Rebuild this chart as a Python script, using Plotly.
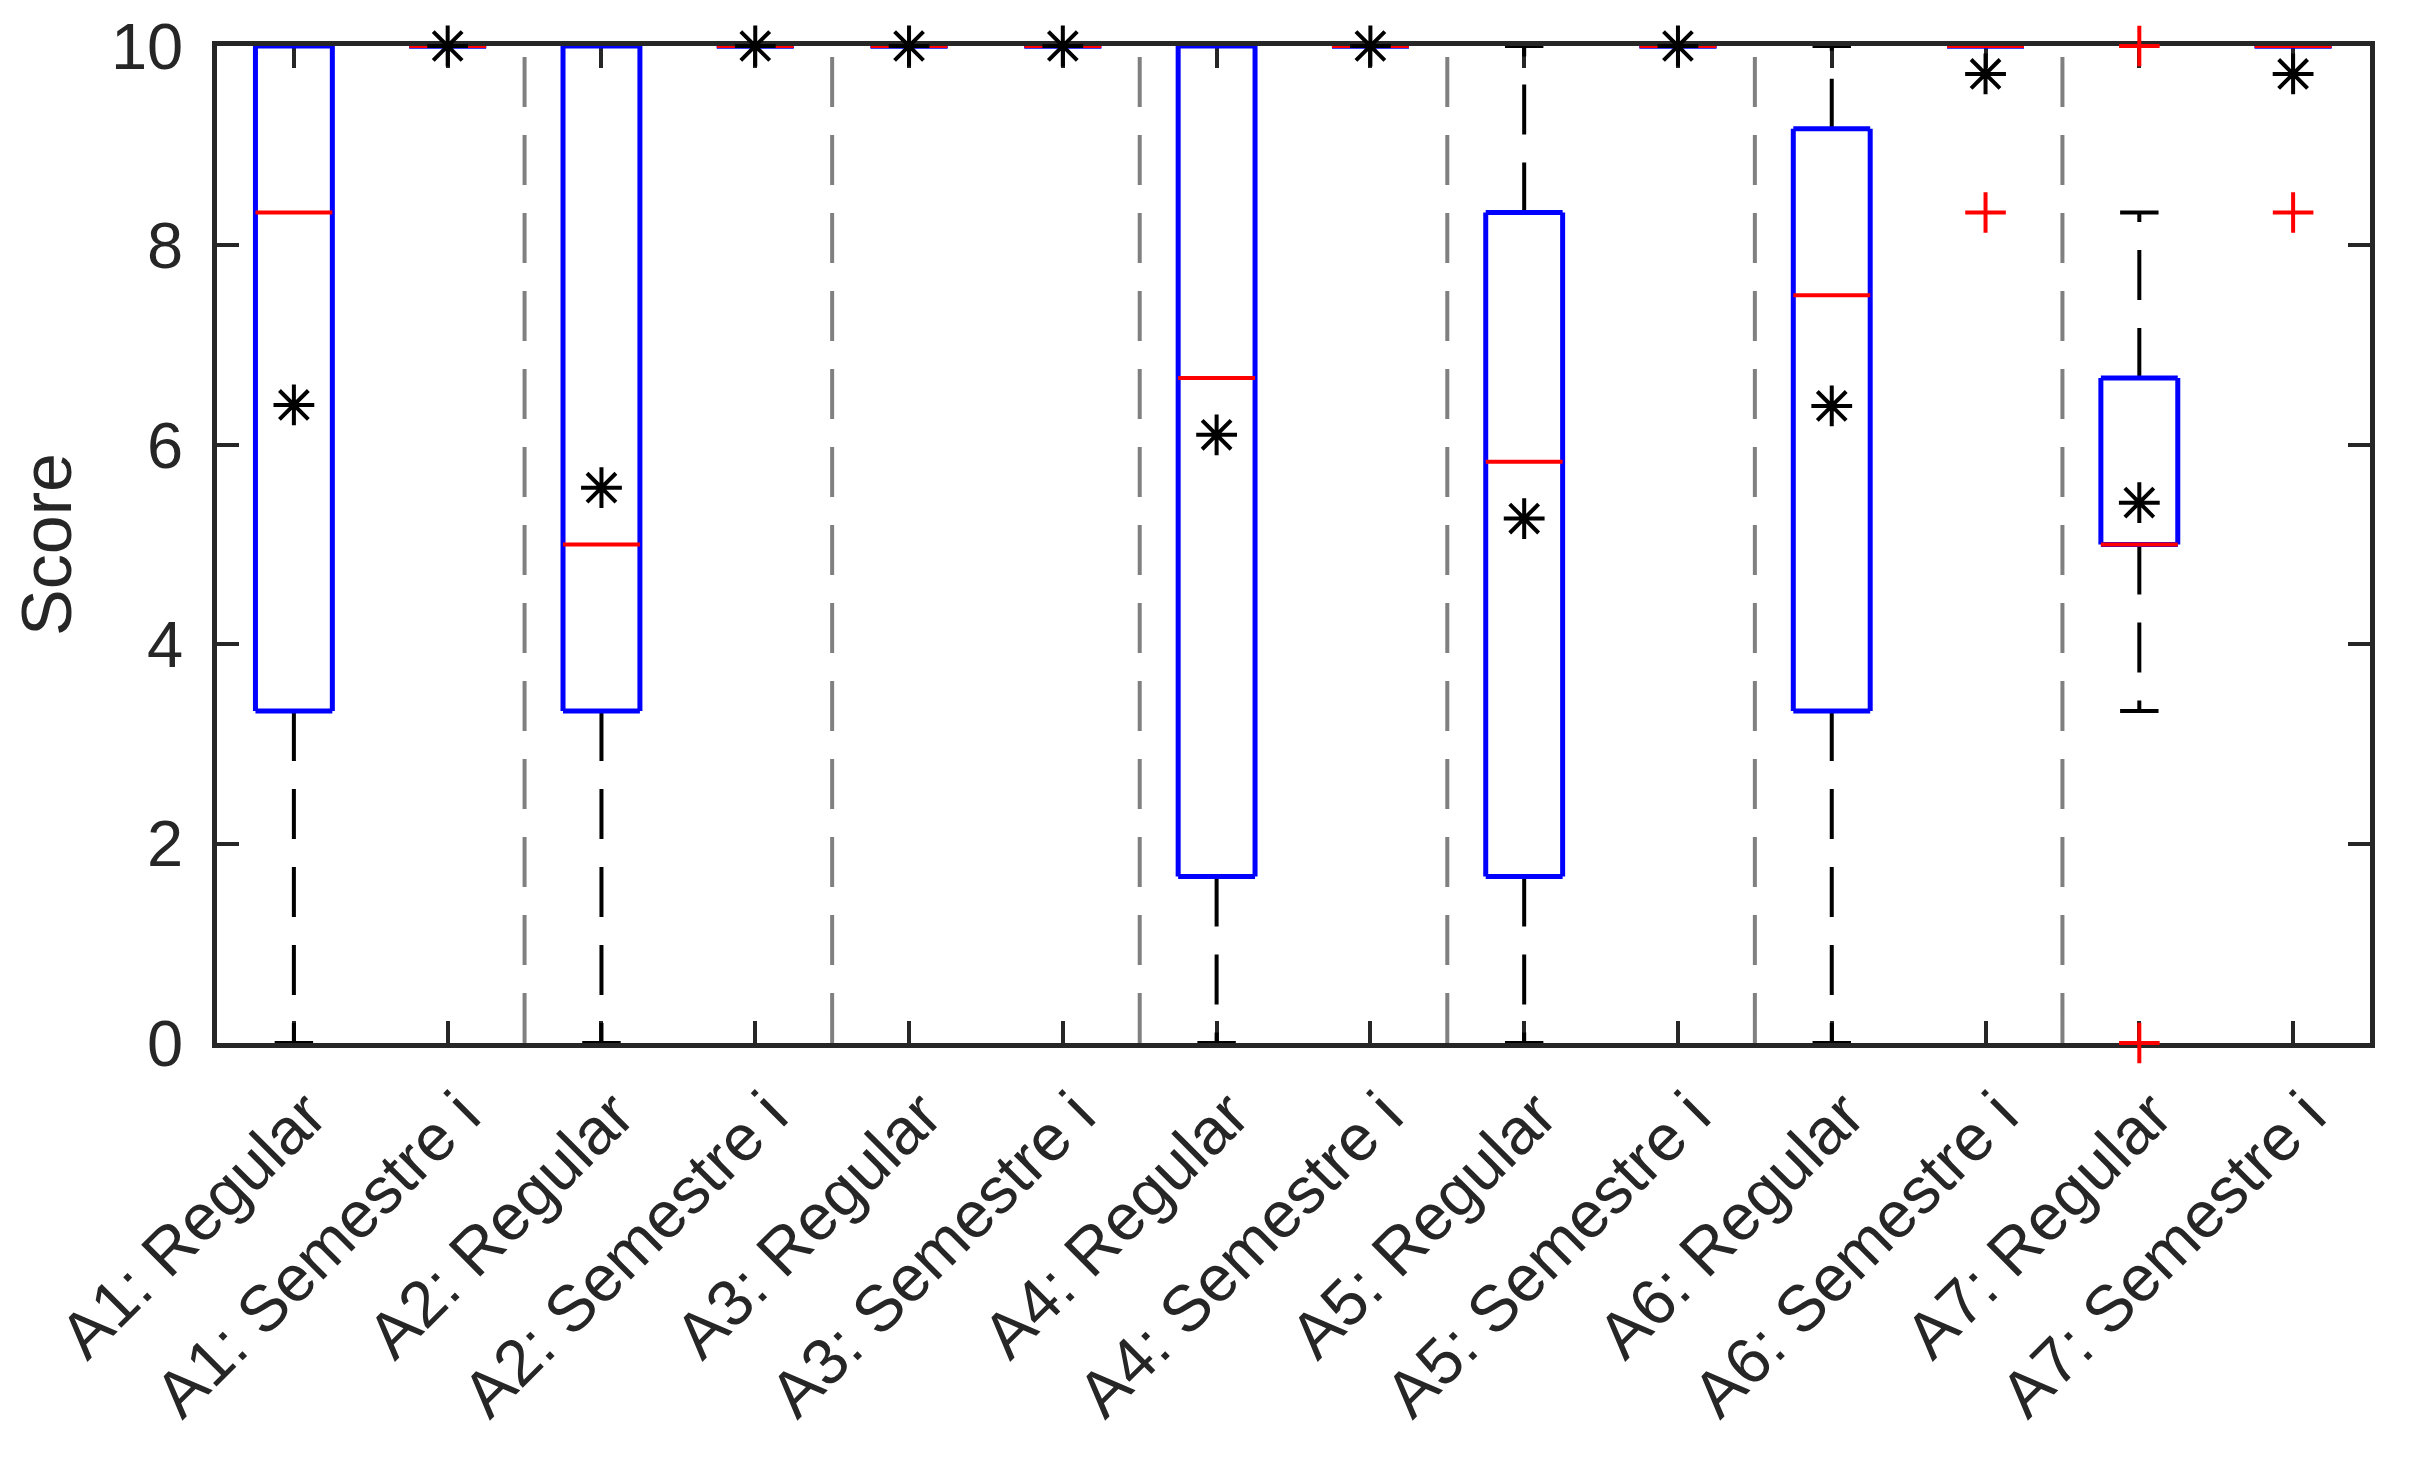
import plotly.graph_objects as go

# one box per category (scores out of 10)
categories = [
    "A1: Regular", "A1: Semestre i",
    "A2: Regular", "A2: Semestre i",
    "A3: Regular", "A3: Semestre i",
    "A4: Regular", "A4: Semestre i",
    "A5: Regular", "A5: Semestre i",
    "A6: Regular", "A6: Semestre i",
    "A7: Regular", "A7: Semestre i",
]
q1 = [3.33, 10, 3.33, 10, 10, 10, 1.67, 10, 1.67, 10, 3.33, 10, 5.0, 10]
medians = [8.33, 10, 5.0, 10, 10, 10, 6.67, 10, 5.83, 10, 7.5, 10, 5.0, 10]
q3 = [10, 10, 10, 10, 10, 10, 10, 10, 8.33, 10, 9.17, 10, 6.67, 10]
whisker_low = [0, 10, 0, 10, 10, 10, 0, 10, 0, 10, 0, 10, 3.33, 10]
whisker_high = [10, 10, 10, 10, 10, 10, 10, 10, 10, 10, 10, 10, 8.33, 10]
means = [6.40, 10, 5.57, 10, 10, 10, 6.10, 10, 5.26, 10, 6.39, 9.72, 5.42, 9.72]
outlier_cat = ["A6: Semestre i", "A7: Regular", "A7: Regular", "A7: Semestre i"]
outlier_val = [8.33, 10, 0, 8.33]

positions = list(range(1, len(categories) + 1))
pos_of = dict(zip(categories, positions))

BOX_HALF = 0.25
CAP_HALF = 0.125
DASH = "50px,28px"
AXIS_COLOR = "#262626"


def segments_to_xy(segments):
    xs, ys = [], []
    for x0, y0, x1, y1 in segments:
        xs += [x0, x1, None]
        ys += [y0, y1, None]
    return xs, ys


def line_trace(segments, color, width, dash="solid"):
    xs, ys = segments_to_xy(segments)
    return go.Scatter(
        x=xs, y=ys, mode="lines", hoverinfo="skip",
        line=dict(color=color, width=width, dash=dash),
    )


def draw_separators(fig):
    # gray dashed line between each pair of categories
    segs = [(p + 0.5, 0, p + 0.5, 10) for p in positions[1:-1:2]]
    fig.add_trace(line_trace(segs, "#808080", 4, DASH))


def draw_boxes(fig):
    whiskers, caps, boxes, meds = [], [], [], []
    for p, lo, a, m, b, hi in zip(positions, whisker_low, q1, medians, q3, whisker_high):
        whiskers += [(p, b, p, hi), (p, a, p, lo)]
        caps += [(p - CAP_HALF, hi, p + CAP_HALF, hi), (p - CAP_HALF, lo, p + CAP_HALF, lo)]
        boxes += [
            (p - BOX_HALF, a, p + BOX_HALF, a),
            (p + BOX_HALF, a, p + BOX_HALF, b),
            (p + BOX_HALF, b, p - BOX_HALF, b),
            (p - BOX_HALF, b, p - BOX_HALF, a),
        ]
        meds.append((p - BOX_HALF, m, p + BOX_HALF, m))
    fig.add_trace(line_trace(whiskers, "black", 4, DASH))
    fig.add_trace(line_trace(caps, "black", 4))
    fig.add_trace(line_trace(boxes, "#0000FF", 5))
    fig.add_trace(line_trace(meds, "#FF0000", 4))


def draw_points(fig):
    fig.add_trace(
        go.Scatter(
            x=[pos_of[c] for c in outlier_cat], y=outlier_val, mode="markers",
            cliponaxis=False, hoverinfo="skip",
            marker=dict(symbol="cross-thin-open", size=29, color="#FF0000",
                        line=dict(color="#FF0000", width=4)),
        )
    )
    fig.add_trace(
        go.Scatter(
            x=positions, y=means, mode="markers", cliponaxis=False, hoverinfo="skip",
            marker=dict(symbol="asterisk-open", size=34, color="black",
                        line=dict(color="black", width=4)),
        )
    )


fig = go.Figure()
draw_separators(fig)
draw_boxes(fig)
draw_points(fig)

axis_style = dict(
    ticks="inside", ticklen=22, tickwidth=4, tickcolor=AXIS_COLOR,
    showline=True, linewidth=4.5, linecolor=AXIS_COLOR, mirror="ticks",
    showgrid=False, zeroline=False, layer="below traces",
    ticklabeloverflow="allow", automargin=False,
)
fig.update_xaxes(
    range=[0.5, 14.5], tickvals=positions, ticktext=categories, tickangle=-45,
    ticklabelstandoff=3, ticklabelshift=13, **axis_style,
)
fig.update_yaxes(
    range=[0, 10], tickvals=[0, 2, 4, 6, 8, 10], ticklabelstandoff=16,
    title=dict(text="Score", font=dict(size=70), standoff=44), **axis_style,
)
# the page body adds an 8px offset, so the figure is 8px smaller than the window
fig.update_layout(
    width=2411,
    height=1454,
    margin=dict(l=209, r=49, t=38, b=419),
    plot_bgcolor="white",
    paper_bgcolor="white",
    showlegend=False,
    font=dict(family="Liberation Sans, Arial, sans-serif", size=65, color=AXIS_COLOR),
)
fig.write_html("out.html")
